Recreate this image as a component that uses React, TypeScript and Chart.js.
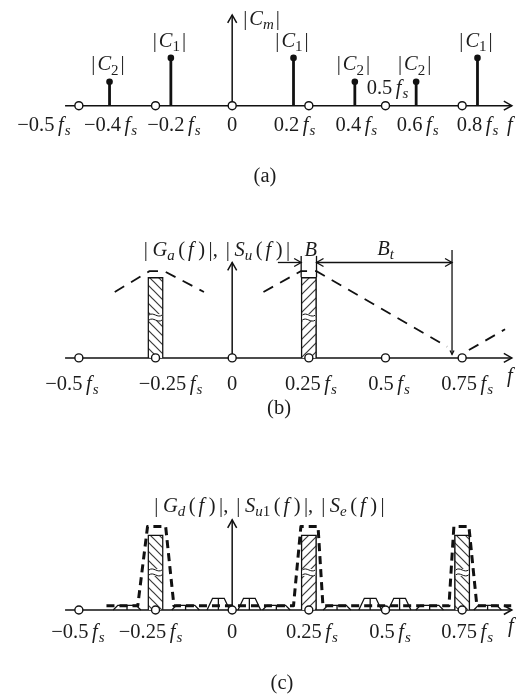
import { useEffect, useRef } from "react";
import { Chart, registerables } from "chart.js";

Chart.register(...registerables);

// ---------- shared frequency axis (values in units of fs) ----------
const ORIGIN_PX = 231.5; // pixel column of f = 0
const FS_PX = 313; // pixels per fs
const WIDTH = 530;
const AXIS_FROM = -0.545;
const AXIS_TO = 0.912;
const FONT = '"Liberation Serif", "Times New Roman", serif';
const TEXT_SIZE = 20.5;

// ---------- panel (a): line spectrum |C_m| ----------
const stemFreqs = [-0.4, -0.2, 0.2, 0.4, 0.6, 0.8];
const stemMags = [0.5, 1, 1, 0.5, 0.5, 1];
const stemIndex = ["2", "1", "1", "2", "2", "1"];
const quarterMarks = [-0.5, -0.25, 0, 0.25, 0.5, 0.75];
const aTickValues = [-0.5, -0.4, -0.2, 0, 0.2, 0.4, 0.6, 0.8];
const aTickLabels = ["−0.5", "−0.4", "−0.2", "0", "0.2", "0.4", "0.6", "0.8"];
const aTickNudge = [-35, 1, 3, 0, 1, 1.5, 1.5, 0];

// ---------- panel (b): |G_a(f)| and |S_u(f)| ----------
const bBandCenters = [-0.25, 0.25];
const bBandMags = [0.93, 0.93];
const bEnvLeftF = [-0.383, -0.27, -0.222, -0.092];
const bEnvLeftMag = [0.76, 1, 1, 0.76];
const bEnvMainF = [0.102, 0.224, 0.275, 0.701];
const bEnvMainMag = [0.76, 1, 1, 0.13];
const bEnvNextF = [0.772, 0.89];
const bEnvNextMag = [0.09, 0.33];
const bTickValues = [-0.5, -0.25, 0, 0.25, 0.5, 0.75];
const bTickLabels = ["−0.5", "−0.25", "0", "0.25", "0.5", "0.75"];
const bTickNudge = [-7, 15, 0, 2, 3.5, 5];
const bandB = 0.05; // signal bandwidth B
const transitionEdge = 0.717; // end of the transition band Bt

// ---------- panel (c): |G_d(f)|, |S_u1(f)|, |S_e(f)| ----------
const cBandCenters = [-0.25, 0.25, 0.75];
const cBandMags = [0.9, 0.9, 0.9];
const cEnvF = [-0.41, -0.308, -0.276, -0.217, -0.19, 0.2, 0.224, 0.28, 0.296, 0.707, 0.723, 0.772, 0.798, 0.91];
const cEnvMag = [0.05, 0.05, 1, 1, 0.05, 0.05, 1, 1, 0.05, 0.05, 1, 1, 0.05, 0.05];
const cLobeCenters = [-0.343, -0.152, -0.045, 0.056, 0.144, 0.342, 0.45, 0.546, 0.644, 0.833];
const cLobeMags = [0.055, 0.055, 0.14, 0.14, 0.055, 0.055, 0.14, 0.14, 0.055, 0.055];
const cLobeHalfBase = [0.045, 0.045, 0.037, 0.037, 0.045, 0.045, 0.037, 0.037, 0.045, 0.045];
const cLobeHalfTop = [0.03, 0.03, 0.019, 0.019, 0.03, 0.03, 0.019, 0.019, 0.03, 0.03];
const cTickNudge = [-1, -5, 0, 3, 4.5, 5];

// ---------- rich text (math-style labels) ----------
type Seg = { t?: string; it?: boolean; sub?: boolean; gap?: number };
const R = (t: string): Seg => ({ t });
const I = (t: string): Seg => ({ t, it: true });
const Sb = (t: string, it = true): Seg => ({ t, it, sub: true });
const G = (gap: number): Seg => ({ gap });
const abs = (...inner: Seg[]): Seg[] => [R("|"), G(2), ...inner, G(2), R("|")];
const fsTick = (num: string): Seg[] =>
  num === "0" ? [R("0")] : [R(num), G(3.5), I("f"), G(1), Sb("s")];
// |X_k(f)| in display style
const absOfF = (name: string, sub: Seg[]): Seg[] => [
  R("|"), G(4.5), I(name), ...sub, G(3.5), R("("), G(3), I("f"), G(4.5), R(")"), G(3.5), R("|"),
];
const commaGap = (): Seg[] => [R(","), G(8)];

function segFont(s: Seg, size: number) {
  return `${s.it ? "italic " : ""}${s.sub ? Math.round(size * 0.72) : size}px ${FONT}`;
}
function richWidth(ctx: CanvasRenderingContext2D, segs: Seg[], size: number) {
  let w = 0;
  for (const s of segs) {
    if (s.gap) { w += s.gap; continue; }
    ctx.font = segFont(s, size);
    w += ctx.measureText(s.t || "").width;
  }
  return w;
}
function drawRich(
  ctx: CanvasRenderingContext2D, segs: Seg[], x: number, cy: number,
  align: "left" | "center" | "right" = "center", size = TEXT_SIZE
) {
  const w = richWidth(ctx, segs, size);
  let cx = align === "center" ? x - w / 2 : align === "right" ? x - w : x;
  const base = cy + size * 0.3;
  ctx.save();
  ctx.fillStyle = "#1c1c1c";
  ctx.textAlign = "left";
  ctx.textBaseline = "alphabetic";
  for (const s of segs) {
    if (s.gap) { cx += s.gap; continue; }
    ctx.font = segFont(s, size);
    ctx.fillText(s.t || "", cx, s.sub ? base + size * 0.2 : base);
    cx += ctx.measureText(s.t || "").width;
  }
  ctx.restore();
}

// ---------- drawing helpers ----------
function seg(ctx: CanvasRenderingContext2D, x1: number, y1: number, x2: number, y2: number) {
  ctx.beginPath();
  ctx.moveTo(x1, y1);
  ctx.lineTo(x2, y2);
  ctx.stroke();
}
function chevron(ctx: CanvasRenderingContext2D, x: number, y: number, dx: number, dy: number, len = 8, half = 4.5) {
  // open arrow head with its tip at (x, y) pointing along (dx, dy)
  const px = -dy, py = dx;
  ctx.beginPath();
  ctx.moveTo(x - dx * len + px * half, y - dy * len + py * half);
  ctx.lineTo(x, y);
  ctx.lineTo(x - dx * len - px * half, y - dy * len - py * half);
  ctx.stroke();
}
function drawAxes(chart: any, vTop: number) {
  const { ctx, scales: { x, y } } = chart;
  const y0 = y.getPixelForValue(0);
  const x0 = x.getPixelForValue(0);
  const xr = x.getPixelForValue(AXIS_TO);
  const yt = y.getPixelForValue(vTop);
  ctx.save();
  ctx.strokeStyle = "#111";
  ctx.lineWidth = 1.5;
  seg(ctx, x.getPixelForValue(AXIS_FROM), y0, xr, y0);
  chevron(ctx, xr, y0, 1, 0);
  seg(ctx, x0, y0, x0, yt);
  chevron(ctx, x0, yt, 0, -1);
  ctx.restore();
}
function drawTicks(chart: any, values: number[], labels: string[], nudge: number[], dy: number) {
  const { ctx, scales: { x, y } } = chart;
  const y0 = y.getPixelForValue(0);
  values.forEach((v, i) => drawRich(ctx, fsTick(labels[i]), x.getPixelForValue(v) + nudge[i], y0 + dy));
}
function drawBreaks(chart: any, barIdx: number) {
  // small wavy "broken bar" marks half way up each hatched band
  const { ctx } = chart;
  ctx.save();
  for (const el of chart.getDatasetMeta(barIdx).data as any[]) {
    const l = el.x - el.width / 2 + 1.2;
    const r = el.x + el.width / 2 - 1.2;
    const m = (el.y + el.base) / 2;
    const w = r - l;
    ctx.fillStyle = "#fff";
    ctx.fillRect(l, m - 3.5, w, 7);
    ctx.strokeStyle = "#111";
    ctx.lineWidth = 1;
    for (const off of [-2.5, 2.5]) {
      ctx.beginPath();
      ctx.moveTo(l, m + off);
      ctx.bezierCurveTo(l + w * 0.35, m + off - 3.5, r - w * 0.35, m + off + 3.5, r, m + off);
      ctx.stroke();
    }
  }
  ctx.restore();
}
function hatch(ctx: CanvasRenderingContext2D, forward: boolean) {
  const s = 9;
  const c = document.createElement("canvas");
  c.width = s;
  c.height = s;
  const g = c.getContext("2d")!;
  g.fillStyle = "#fff";
  g.fillRect(0, 0, s, s);
  g.strokeStyle = "#3a3a3a";
  g.lineWidth = 1.2;
  g.beginPath();
  if (forward) {
    g.moveTo(-1, s + 1); g.lineTo(s + 1, -1);
    g.moveTo(-2, 2); g.lineTo(2, -2);
    g.moveTo(s - 2, s + 2); g.lineTo(s + 2, s - 2);
  } else {
    g.moveTo(-1, -1); g.lineTo(s + 1, s + 1);
    g.moveTo(-2, s - 2); g.lineTo(2, s + 2);
    g.moveTo(s - 2, -2); g.lineTo(s + 2, 2);
  }
  g.stroke();
  return ctx.createPattern(c, "repeat")!;
}

// ---------- dataset builders ----------
const pts = (xs: number[], ys: (number | null)[]) => xs.map((f, i) => ({ x: f, y: ys[i] }));
const circleDs = (vals: number[]) => ({
  type: "scatter", data: vals.map((f) => ({ x: f, y: 0 })), showLine: false,
  pointRadius: 4, pointBackgroundColor: "#fff", pointBorderColor: "#111", pointBorderWidth: 1.4,
  order: 0, clip: false,
});
const lineDs = (xs: number[], ys: (number | null)[], extra: any = {}) => ({
  type: "line", data: pts(xs, ys), borderColor: "#111", borderWidth: 1.5, pointRadius: 0,
  fill: false, tension: 0, spanGaps: false, clip: false, order: 1, ...extra,
});
const barDs = (centers: number[], mags: number[], patterns: CanvasPattern[]) => ({
  type: "bar", data: pts(centers, mags), backgroundColor: patterns, borderColor: "#111",
  borderWidth: 1.5, barThickness: 15.5, order: 3,
});

function baseOptions(height: number, baseline: number, unitPx: number) {
  return {
    responsive: false, maintainAspectRatio: false, animation: false, events: [],
    layout: { padding: 0 },
    plugins: { legend: { display: false }, tooltip: { enabled: false } },
    scales: {
      x: { type: "linear", display: false, offset: false, min: -ORIGIN_PX / FS_PX, max: (WIDTH - ORIGIN_PX) / FS_PX },
      y: { type: "linear", display: false, min: -(height - baseline) / unitPx, max: baseline / unitPx },
    },
  };
}

// ---------- panel configurations ----------
function configA(): any {
  const stems = stemFreqs.map((f, i) =>
    lineDs([f, f], [0, stemMags[i]], { borderWidth: 2.8, pointRadius: [0, 3.3], pointBackgroundColor: "#111", pointBorderWidth: 0 })
  );
  return {
    type: "scatter",
    data: { datasets: [circleDs(quarterMarks), ...stems] },
    options: baseOptions(200, 106, 50.5),
    plugins: [{
      id: "figureA",
      beforeDatasetsDraw: (chart: any) => drawAxes(chart, 1.9),
      afterDatasetsDraw: (chart: any) => {
        const { ctx, scales: { x, y } } = chart;
        const y0 = y.getPixelForValue(0);
        stemFreqs.forEach((f, i) =>
          drawRich(ctx, abs(I("C"), Sb(stemIndex[i], false)), x.getPixelForValue(f) - 1.5, y.getPixelForValue(stemMags[i]) - 17.5)
        );
        drawRich(ctx, abs(I("C"), Sb("m")), x.getPixelForValue(0) + 11, y.getPixelForValue(1.9) + 4, "left");
        drawRich(ctx, fsTick("0.5"), x.getPixelForValue(0.5) + 2, y0 - 18);
        drawTicks(chart, aTickValues, aTickLabels, aTickNudge, 19);
        drawRich(ctx, [I("f")], x.getPixelForValue(AXIS_TO) - 2, y0 + 19);
        drawRich(ctx, [R("(a)")], 265, 176);
      },
    }],
  };
}

function configB(ctx: CanvasRenderingContext2D): any {
  const dash = { borderDash: [11, 8], borderWidth: 1.8 };
  return {
    type: "scatter",
    data: {
      datasets: [
        circleDs(quarterMarks),
        lineDs(bEnvLeftF, bEnvLeftMag, dash),
        lineDs(bEnvMainF, bEnvMainMag, dash),
        lineDs(bEnvNextF, bEnvNextMag, dash),
        barDs(bBandCenters, bBandMags, [hatch(ctx, false), hatch(ctx, true)]),
      ],
    },
    options: baseOptions(230, 160, 91),
    plugins: [{
      id: "figureB",
      beforeDatasetsDraw: (chart: any) => drawAxes(chart, 1.1),
      afterDatasetsDraw: (chart: any) => {
        const { ctx: c, scales: { x, y } } = chart;
        drawBreaks(chart, 4);
        const y0 = y.getPixelForValue(0);
        // B and Bt dimension marks
        const xl = x.getPixelForValue(0.25 - bandB / 2);
        const xr = x.getPixelForValue(0.25 + bandB / 2);
        const xt = x.getPixelForValue(transitionEdge);
        const ya = y.getPixelForValue(1.1);
        c.save();
        c.strokeStyle = "#111";
        c.lineWidth = 1.3;
        seg(c, xl, y.getPixelForValue(bBandMags[1]), xl, y.getPixelForValue(1.176));
        seg(c, xr, y.getPixelForValue(bBandMags[1]), xr, y.getPixelForValue(1.176));
        seg(c, x.getPixelForValue(0.149), ya, xl, ya);
        chevron(c, xl, ya, 1, 0, 7, 4);
        seg(c, xr, ya, xt, ya);
        chevron(c, xr, ya, -1, 0, 7, 4);
        chevron(c, xt, ya, 1, 0, 7, 4);
        seg(c, xt, y.getPixelForValue(1.245), xt, y.getPixelForValue(0.04));
        chevron(c, xt, y.getPixelForValue(0.04), 0, 1, 4, 2);
        c.restore();
        drawRich(c, [I("B")], (xl + xr) / 2 + 2, y.getPixelForValue(1.245));
        drawRich(c, [I("B"), Sb("t")], x.getPixelForValue(0.5), y.getPixelForValue(1.26));
        drawRich(c, [...absOfF("G", [Sb("a")]), ...commaGap(), ...absOfF("S", [Sb("u")])], 217, y.getPixelForValue(1.245));
        drawTicks(chart, bTickValues, bTickLabels, bTickNudge, 25.5);
        drawRich(c, [I("f")], x.getPixelForValue(AXIS_TO) - 2, y0 + 18);
        drawRich(c, [R("(b)")], 279, 208);
      },
    }],
  };
}

function configC(ctx: CanvasRenderingContext2D): any {
  const lobeX: number[] = [];
  const lobeY: (number | null)[] = [];
  cLobeCenters.forEach((f, i) => {
    const m = cLobeMags[i];
    const hb = cLobeHalfBase[i];
    const ht = cLobeHalfTop[i];
    lobeX.push(f - hb, f - ht, f + ht, f + hb, f + hb, f, f, f);
    lobeY.push(0, m, m, 0, null, 0, m, null);
  });
  return {
    type: "scatter",
    data: {
      datasets: [
        circleDs(quarterMarks),
        lineDs(cEnvF, cEnvMag, { borderDash: [8, 5], borderWidth: 3, borderJoinStyle: "round" }),
        lineDs(lobeX, lobeY, { borderWidth: 1.3, order: 2 }),
        barDs(cBandCenters, cBandMags, [hatch(ctx, false), hatch(ctx, true), hatch(ctx, false)]),
      ],
    },
    options: baseOptions(265, 182, 87),
    plugins: [{
      id: "figureC",
      beforeDatasetsDraw: (chart: any) => drawAxes(chart, 1.08),
      afterDatasetsDraw: (chart: any) => {
        const { ctx: c, scales: { x, y } } = chart;
        drawBreaks(chart, 3);
        const y0 = y.getPixelForValue(0);
        drawRich(
          c,
          [
            ...absOfF("G", [Sb("d")]), ...commaGap(),
            ...absOfF("S", [Sb("u"), Sb("1", false)]), ...commaGap(),
            ...absOfF("S", [Sb("e")]),
          ],
          269.5, 76
        );
        drawTicks(chart, bTickValues, bTickLabels, cTickNudge, 22);
        drawRich(c, [I("f")], x.getPixelForValue(AXIS_TO) - 1, y0 + 16);
        drawRich(c, [R("(c)")], 282, 253);
      },
    }],
  };
}

// ---------- React ----------
function Panel({ top, height, make }: { top: number; height: number; make: (ctx: CanvasRenderingContext2D) => any }) {
  const ref = useRef<HTMLCanvasElement>(null);
  useEffect(() => {
    const canvas = ref.current!;
    const chart = new Chart(canvas, make(canvas.getContext("2d")!));
    return () => chart.destroy();
  }, [make]);
  return (
    <canvas
      ref={ref}
      width={WIDTH}
      height={height}
      style={{ position: "absolute", left: 0, top, width: WIDTH, height, display: "block" }}
    />
  );
}

export default function App() {
  return (
    <div style={{ position: "absolute", left: 0, top: 0, width: WIDTH, height: 695, background: "#fff" }}>
      <Panel top={0} height={200} make={configA} />
      <Panel top={200} height={230} make={configB} />
      <Panel top={430} height={265} make={configC} />
    </div>
  );
}
